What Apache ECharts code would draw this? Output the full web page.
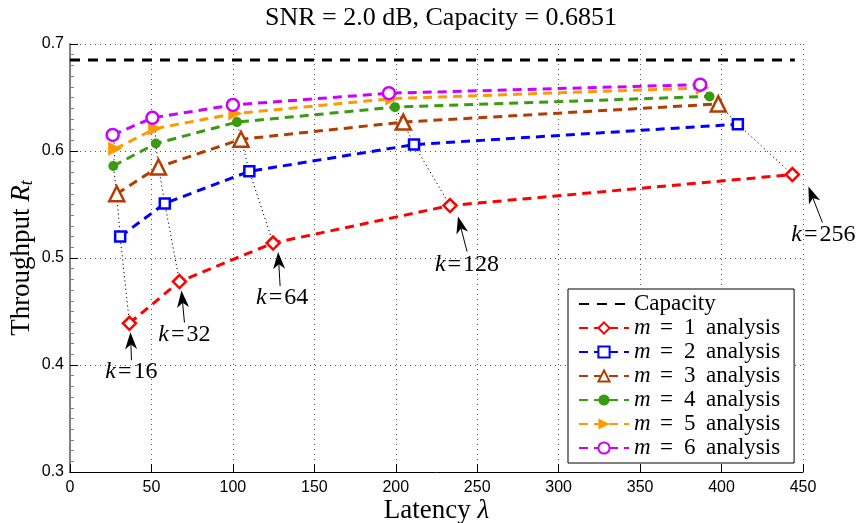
<!DOCTYPE html>
<html>
<head>
<meta charset="utf-8">
<script src="https://cdn.jsdelivr.net/npm/echarts@6/dist/echarts.min.js"></script>
<style>
  html, body { margin: 0; padding: 0; background: #fff; }
  #chart { width: 859px; height: 523px; }
</style>
</head>
<body>
<div id="chart"></div>
<script>
// Block lengths k, shared by every m curve (one point per k)
const kValues = [16, 32, 64, 128, 256];

// Channel capacity at SNR = 2.0 dB and the latency range it is drawn across
const capacity = 0.6851;
const capacitySpan = [0, 445];

// Latency (x) and throughput (y) for each m
const latencyM1 = [36.5, 67.2, 124.7, 233.3, 443.5];
const throughputM1 = [0.439, 0.478, 0.514, 0.549, 0.578];
const latencyM2 = [30.8, 58.2, 110.1, 211.2, 410.0];
const throughputM2 = [0.520, 0.551, 0.581, 0.606, 0.625];
const latencyM3 = [28.7, 54.3, 105.0, 204.6, 398.0];
const throughputM3 = [0.560, 0.585, 0.611, 0.627, 0.644];
const latencyM4 = [26.6, 52.7, 102.5, 199.5, 392.6];
const throughputM4 = [0.586, 0.607, 0.627, 0.641, 0.651];
const latencyM5 = [27.7, 52.3, 101.5, 197.8, 388.5];
const throughputM5 = [0.602, 0.621, 0.635, 0.649, 0.659];
const latencyM6 = [26.2, 50.6, 100.0, 195.8, 386.9];
const throughputM6 = [0.615, 0.631, 0.643, 0.654, 0.662];

// Axis ticks
const xTicks = [0, 50, 100, 150, 200, 250, 300, 350, 400, 450];
const yTicks = [0.3, 0.4, 0.5, 0.6, 0.7];

const latencies = [latencyM1, latencyM2, latencyM3, latencyM4, latencyM5, latencyM6];
const throughputs = [throughputM1, throughputM2, throughputM3, throughputM4, throughputM5, throughputM6];

const serif = 'Liberation Serif';
const sans = 'Liberation Sans';

// Per-m appearance
const styles = [
  { color: '#ff0000', symbol: 'diamond', size: 13, hollow: true },
  { color: '#0000ff', symbol: 'rect', size: 10, hollow: true },
  { color: '#b33c00', symbol: 'triangle', size: 15, hollow: true },
  { color: '#3a9a10', symbol: 'circle', size: 10, hollow: false },
  { color: '#ff9900', symbol: 'path://M0,0L10,5L0,10Z', size: 14, hollow: false },
  { color: '#cc00ff', symbol: 'circle', size: 12, hollow: true }
];

const pairs = (xs, ys) => xs.map((x, i) => [x, ys[i]]);
const seriesName = m => 'm = ' + (m + 1) + ' analysis';

const series = [];

// Dotted guides joining the same k across m = 1..6
kValues.forEach((k, i) => {
  series.push({
    type: 'line',
    name: 'k' + k,
    data: latencies.map((xs, m) => [xs[i], throughputs[m][i]]),
    symbol: 'none',
    lineStyle: { color: '#000', width: 1, type: [1.2, 3] },
    z: 1,
    silent: true
  });
});

series.push({
  type: 'line',
  name: 'Capacity',
  data: capacitySpan.map(x => [x, capacity]),
  symbol: 'none',
  lineStyle: { color: '#000', width: 3, type: [10, 8] },
  itemStyle: { color: 'rgba(0,0,0,0)' },
  z: 2
});

styles.forEach((s, m) => {
  series.push({
    type: 'line',
    name: seriesName(m),
    data: pairs(latencies[m], throughputs[m]),
    symbol: s.symbol,
    symbolSize: s.size,
    showAllSymbol: true,
    lineStyle: { color: s.color, width: 3, type: [9, 6] },
    itemStyle: s.hollow
      ? { color: '#fff', borderColor: s.color, borderWidth: 2.5 }
      : { color: s.color, borderColor: s.color, borderWidth: 0 },
    z: 3 + m
  });
});

const legendFont = { fontFamily: serif, fontSize: 23, lineHeight: 24, color: '#000' };

const option = {
  animation: false,
  backgroundColor: '#fff',
  title: {
    text: 'SNR = 2.0 dB, Capacity = 0.6851',
    left: 436, top: 0, textAlign: 'center',
    textStyle: { fontFamily: serif, fontSize: 26, fontWeight: 'normal', color: '#000' }
  },
  grid: { left: 70, right: 56, top: 44, bottom: 51, containLabel: false, outerBoundsMode: 'none' },
  legend: {
    orient: 'vertical',
    left: 568, top: 289,
    padding: [3, 14, 3, 10],
    itemWidth: 50, itemHeight: 14, itemGap: 0,
    selectedMode: false,
    backgroundColor: '#fff',
    borderColor: '#000', borderWidth: 1,
    data: ['Capacity'].concat(styles.map((s, m) => seriesName(m))),
    formatter: name => {
      if (!name.startsWith('m ')) return '{a|' + name + '}';
      const parts = name.split(' ');
      return '{i|m}{e|=}{n|' + parts[2] + '}{a|' + parts[3] + '}';
    },
    textStyle: Object.assign({}, legendFont, {
      rich: {
        i: Object.assign({}, legendFont, { fontStyle: 'italic', width: 26 }),
        e: Object.assign({}, legendFont, { width: 24 }),
        n: Object.assign({}, legendFont, { width: 22 }),
        a: Object.assign({}, legendFont)
      }
    }),
    z: 20
  },
  xAxis: {
    type: 'value',
    min: xTicks[0], max: xTicks[xTicks.length - 1], interval: xTicks[1] - xTicks[0],
    name: 'Latency {i|λ}',
    nameLocation: 'middle', nameGap: 25, nameMoveOverlap: false,
    nameTextStyle: {
      fontFamily: serif, fontSize: 27, color: '#000',
      rich: { i: { fontFamily: serif, fontStyle: 'italic', fontSize: 27, color: '#000' } }
    },
    axisLine: { show: true, onZero: false, lineStyle: { color: '#000', width: 1 } },
    axisTick: { show: true, inside: true, length: 8, lineStyle: { color: '#000' } },
    minorTick: { show: false },
    axisLabel: { fontFamily: sans, fontSize: 16, color: '#000', margin: 8 },
    splitLine: { show: true, lineStyle: { color: '#555', width: 1, type: [1, 4] } }
  },
  yAxis: {
    type: 'value',
    min: yTicks[0], max: yTicks[yTicks.length - 1], interval: 0.1,
    name: 'Throughput {i|R}{s|t}',
    nameLocation: 'middle', nameGap: 34, nameMoveOverlap: false,
    nameTextStyle: {
      fontFamily: serif, fontSize: 27, color: '#000',
      rich: {
        i: { fontFamily: serif, fontStyle: 'italic', fontSize: 27, color: '#000' },
        s: { fontFamily: serif, fontStyle: 'italic', fontSize: 18, color: '#000', padding: [10, 0, 0, 0] }
      }
    },
    axisLine: { show: true, onZero: false, lineStyle: { color: '#808080', width: 2 } },
    axisTick: { show: true, inside: true, length: 8, lineStyle: { color: '#000' } },
    minorTick: { show: true, splitNumber: 10, length: 4, lineStyle: { color: '#808080' } },
    axisLabel: { fontFamily: sans, fontSize: 16, color: '#000', margin: 6, formatter: v => v.toFixed(1) },
    splitLine: { show: true, lineStyle: { color: '#555', width: 1, type: [1, 4] } }
  },
  series: series
};

const chart = echarts.init(document.getElementById('chart'), null, { renderer: 'canvas' });
chart.setOption(option);

// Arrow callouts for the m = 1 points: pixel offsets from the marker to the
// arrow tip, the arrow tail and the label centre
const calloutOffsets = [
  { tip: [1, 9], tail: [2, 37], label: [2, 48] },
  { tip: [2, 9], tail: [5, 41], label: [5, 53] },
  { tip: [5, 9], tail: [7, 43], label: [9, 55] },
  { tip: [8, 11], tail: [17, 46], label: [17, 59] },
  { tip: [16, 12], tail: [30, 48], label: [31, 60] }
];

const graphics = [];
kValues.forEach((k, i) => {
  const p = chart.convertToPixel({ gridIndex: 0 }, [latencyM1[i], throughputM1[i]]);
  const o = calloutOffsets[i];
  const tip = [p[0] + o.tip[0], p[1] + o.tip[1]];
  const tail = [p[0] + o.tail[0], p[1] + o.tail[1]];
  const ang = Math.atan2(tip[1] - tail[1], tip[0] - tail[0]);
  const L = 17, W = 12, N = 0.72;
  const rot = (dx, dy) => [
    tip[0] + dx * Math.cos(ang) - dy * Math.sin(ang),
    tip[1] + dx * Math.sin(ang) + dy * Math.cos(ang)
  ];
  graphics.push({
    type: 'line', z: 30,
    shape: { x1: tail[0], y1: tail[1], x2: rot(-L * N, 0)[0], y2: rot(-L * N, 0)[1] },
    style: { stroke: '#000', lineWidth: 1 }
  });
  graphics.push({
    type: 'polygon', z: 30,
    shape: { points: [rot(0, 0), rot(-L, -W / 2), rot(-L * N, 0), rot(-L, W / 2)] },
    style: { fill: '#000' }
  });
  graphics.push({
    type: 'text', z: 30,
    x: p[0] + o.label[0], y: p[1] + o.label[1],
    style: {
      text: '{i|k}{e|=}' + k,
      fill: '#000',
      font: '24px "' + serif + '"',
      align: 'center', verticalAlign: 'middle',
      rich: {
        i: { fontFamily: serif, fontStyle: 'italic', fontSize: 24, fill: '#000' },
        e: { fontFamily: serif, fontSize: 24, fill: '#000', padding: [0, 2, 0, 2] }
      }
    }
  });
});
chart.setOption({ graphic: graphics });
</script>
</body>
</html>
